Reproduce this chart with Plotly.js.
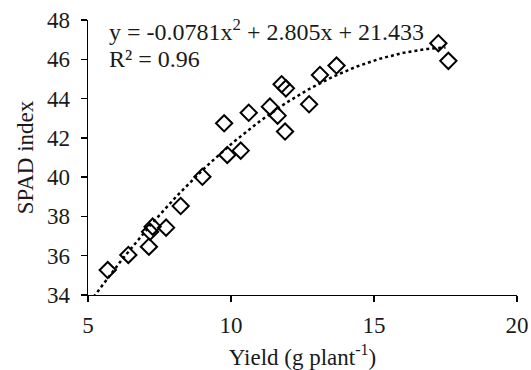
<!DOCTYPE html>
<html>
<head>
<meta charset="utf-8">
<script src="https://cdn.plot.ly/plotly-3.0.1.min.js"></script>
<style>html,body{margin:0;padding:0;background:#fff;}#chart{width:531px;height:370px;}</style>
</head>
<body>
<div id="chart"></div>
<script>
// Observed data (Yield g/plant vs SPAD index)
const yieldValues = [5.69, 6.41, 7.13, 7.17, 7.26, 7.73, 8.24, 9.0, 9.76, 9.87, 10.34, 10.62, 11.36, 11.63, 11.77, 11.92, 11.89, 12.73, 13.11, 13.69, 17.25, 17.6];
const spadValues  = [35.27, 36.04, 36.46, 37.22, 37.48, 37.43, 38.53, 40.02, 42.74, 41.13, 41.35, 43.28, 43.59, 43.13, 44.73, 44.52, 42.32, 43.71, 45.2, 45.68, 46.82, 45.92];

// Polynomial trendline coefficients as printed on the chart: a*x^2 + b*x + c
const trendCoefs = [-0.0781, 2.805, 21.433];
const trendRange = [5.2, 17.5];

const xTicks = [5, 10, 15, 20];
const yTicks = [34, 36, 38, 40, 42, 44, 46, 48];

const trendX = [], trendY = [];
for (let i = 0; i <= 120; i++) {
  const x = trendRange[0] + (trendRange[1] - trendRange[0]) * i / 120;
  trendX.push(x);
  trendY.push(trendCoefs[0] * x * x + trendCoefs[1] * x + trendCoefs[2]);
}

const serif = 'Liberation Serif, Times New Roman, serif';
const txt = '#1a1a1a';

const traces = [
  {
    x: trendX, y: trendY, type: 'scatter', mode: 'lines',
    line: {color: '#000', width: 2.5, dash: 'dot'},
    hoverinfo: 'skip', showlegend: false
  },
  {
    x: yieldValues, y: spadValues, type: 'scatter', mode: 'markers',
    marker: {symbol: 'diamond-open', size: 12.5, color: '#000', line: {color: '#000', width: 2}},
    showlegend: false
  }
];

const layout = {
  width: 531, height: 370,
  margin: {l: 88, r: 14, t: 20, b: 75},
  paper_bgcolor: '#fff', plot_bgcolor: '#fff',
  font: {family: serif, color: txt, size: 23},
  showlegend: false,
  xaxis: {
    range: [5, 20], tickvals: xTicks, ticktext: xTicks.map(String),
    showgrid: false, zeroline: false, showline: true, linecolor: '#000', linewidth: 1.3,
    ticks: 'outside', ticklen: 6, tickcolor: '#000', tickwidth: 1.3,
    ticklabelstandoff: 3,
    tickfont: {family: serif, size: 23, color: txt},
    title: {text: 'Yield (g plant<sup>-1</sup>)', font: {family: serif, size: 23, color: txt}, standoff: 13}
  },
  yaxis: {
    range: [34, 48], tickvals: yTicks, ticktext: yTicks.map(String),
    showgrid: false, zeroline: false, showline: true, linecolor: '#000', linewidth: 1.3,
    ticks: 'outside', ticklen: 6, tickcolor: '#000', tickwidth: 1.3,
    ticklabelstandoff: 6,
    tickfont: {family: serif, size: 23, color: txt},
    title: {text: 'SPAD index', font: {family: serif, size: 23, color: txt}, standoff: 7}
  },
  annotations: [
    {
      xref: 'paper', yref: 'paper', x: 0.045, y: 0.962, xanchor: 'left', yanchor: 'middle',
      text: 'y = -0.0781x<sup>2</sup> + 2.805x + 21.433', showarrow: false,
      font: {family: serif, size: 24, color: txt}
    },
    {
      xref: 'paper', yref: 'paper', x: 0.045, y: 0.857, xanchor: 'left', yanchor: 'middle',
      text: 'R² = 0.96', showarrow: false,
      font: {family: serif, size: 24, color: txt}
    }
  ]
};

Plotly.newPlot('chart', traces, layout, {displayModeBar: false, staticPlot: true});
</script>
</body>
</html>
